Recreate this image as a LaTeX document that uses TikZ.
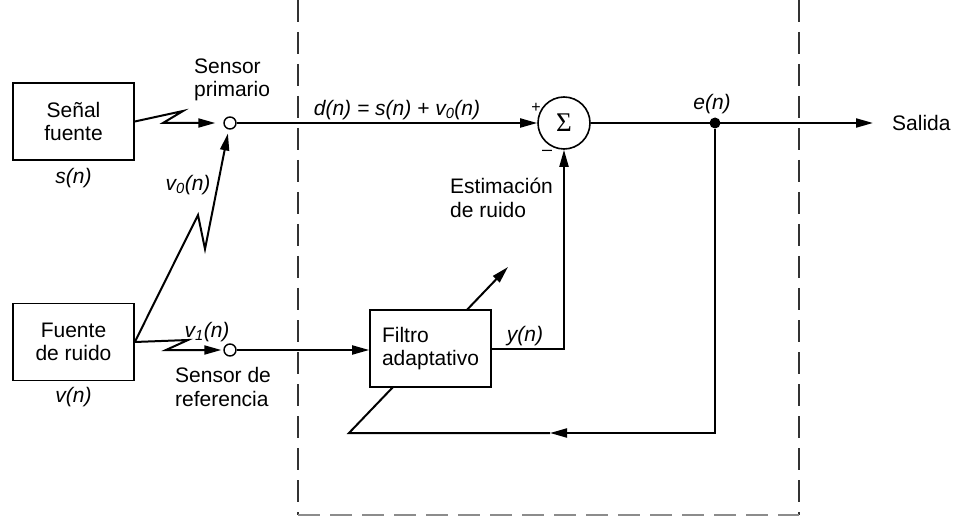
\documentclass[tikz,border=0pt]{standalone}
\usepackage{fontspec}
\setmainfont{Liberation Sans}
\newfontfamily\sigmafont{Liberation Serif}
\usetikzlibrary{arrows.meta,positioning}

\begin{document}
\begin{tikzpicture}[x=1pt, y=-1pt, every node/.style={font=\fontsize{21}{23.5}\selectfont}]
  \tikzset{
    block/.style={draw, line width=1.6pt, minimum width=121pt, minimum height=77pt, align=center, fill=white},
    sensor/.style={draw, circle, line width=1.4pt, minimum size=12pt, inner sep=0pt, fill=white},
    wire/.style={line width=2pt},
    sig/.style={wire, -{Triangle[length=17pt,width=9pt]}},
    lbl/.style={inner sep=0pt, font=\fontsize{21}{23.5}\selectfont\itshape},
    txt/.style={inner sep=0pt, anchor=west, align=left}
  }
  \useasboundingbox (0,0) rectangle (968,518);

  % recuadro del cancelador
  \draw[line width=1.3pt, black!80, dash pattern=on 22pt off 10pt] (298,0) -- (298,515);
  \draw[line width=1.3pt, black!80, dash pattern=on 22pt off 10pt] (799,0) -- (799,515);
  \draw[line width=1.3pt, black!45, dash pattern=on 22pt off 10pt] (298,515) -- (799,515);

  \node[block] (src)   at (73.5,121.5) {Señal\\fuente};
  \node[block] (noise) at (73.5,342)   {Fuente\\de ruido};
  \node[sensor] (sp) at (230,123) {};
  \node[sensor] (sr) at (230,350) {};
  \node[draw, circle, line width=1.6pt, minimum size=52pt, inner sep=0pt] (sum) at (564,123) {\sigmafont\fontsize{27}{27}\selectfont Σ};
  \node[circle, fill, minimum size=11pt, inner sep=0pt] (tap) at (715,123) {};

  \coordinate (out)  at (873,123);
  \coordinate (fb)   at (715,433);
  \coordinate (fm)   at (550,433);
  \coordinate (fa)   at (349,433);
  \coordinate (atip) at (508,267);
  \coordinate (zs1) at (183,111);
  \coordinate (zs2) at (163,123);
  \coordinate (zv1) at (198,215);
  \coordinate (zv2) at (205,249);
  \coordinate (zr1) at (188,340);
  \coordinate (zr2) at (166,350);

  % ajuste del filtro
  \draw[sig] (fm) -- (fa) -- (atip);
  \node[block, align=left] (filt) at (430.5,348.5) {Filtro\\adaptativo};

  \draw[sig, shorten >=8pt] (src.east) -- (zs1) -- (zs2) -- (sp);
  \draw[sig, shorten >=4pt] (noise.east) -- (zv1) -- (zv2) -- (sp);
  \draw[sig, shorten >=2pt] (noise.east) -- (zr1) -- (zr2) -- (sr);
  \draw[sig] (sp) -- (sum);
  \draw[sig] (sum) -- (out);
  \draw[sig] (sr.east) -- (sr.east -| filt.west);
  \draw[sig] (filt) -| (sum);
  \draw[sig] (tap) |- (fm);

  \node[lbl, below=7pt of src]   (ls)  {s(n)};
  \node[lbl, below=6pt of noise] (lv)  {v(n)};
  \node[lbl] (lv0) at (188,185) {v\textsubscript{0}(n)};
  \node[lbl] (lv1) at (207,332) {v\textsubscript{1}(n)};
  \node[lbl] (ld)  at (397,110) {d(n) = s(n) + v\textsubscript{0}(n)};
  \node[lbl] (le)  at (712,104) {e(n)};
  \node[lbl] (ly)  at (525,336) {y(n)};
  \node[txt] (lsp)  at (194,80)  {Sensor\\primario};
  \node[txt] (lsr)  at (175,387) {Sensor de\\referencia};
  \node[txt] (lest) at (450,198) {Estimación\\de ruido};
  \node[txt] (lout) at (892,123) {Salida};
  \node[inner sep=0pt, font=\fontsize{16}{16}\selectfont] (lplus)  at (536,108) {+};
  \node[inner sep=0pt, font=\fontsize{18}{18}\selectfont] (lminus) at (547,153) {–};
\end{tikzpicture}
\end{document}
